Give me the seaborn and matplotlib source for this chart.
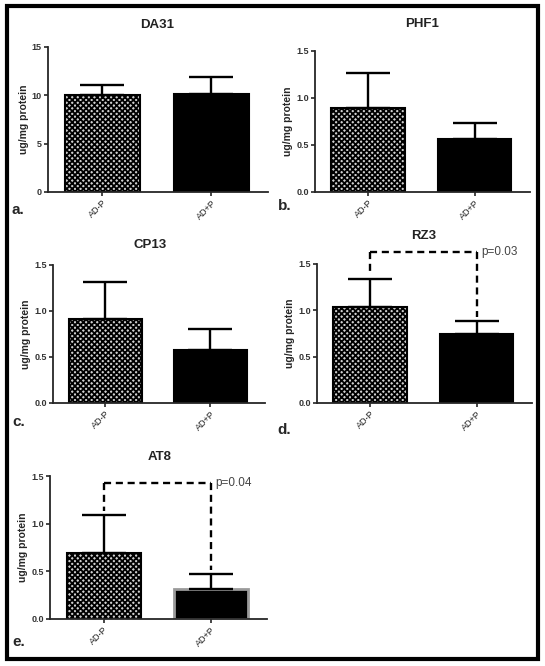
import matplotlib
matplotlib.use("Agg")
import matplotlib.pyplot as plt
import seaborn as sns
import numpy as np
from matplotlib.patches import Rectangle

sns.set_style("ticks")
plt.rcParams['font.family'] = ['Liberation Sans', 'DejaVu Sans']
plt.rcParams['hatch.linewidth'] = 1.3

groups = ["AD-P", "AD+P"]
titles = ["DA31", "PHF1", "CP13", "RZ3", "AT8"]
letters = ["a.", "b.", "c.", "d.", "e."]
means = {
    "DA31": [10.0, 10.1],
    "PHF1": [0.89, 0.56],
    "CP13": [0.91, 0.58],
    "RZ3": [1.04, 0.745],
    "AT8": [0.69, 0.31],
}
upper = {
    "DA31": [11.1, 11.9],
    "PHF1": [1.27, 0.73],
    "CP13": [1.31, 0.80],
    "RZ3": [1.34, 0.89],
    "AT8": [1.09, 0.47],
}
yticks = {
    "DA31": [0, 5, 10, 15],
    "PHF1": [0.0, 0.5, 1.0, 1.5],
    "CP13": [0.0, 0.5, 1.0, 1.5],
    "RZ3": [0.0, 0.5, 1.0, 1.5],
    "AT8": [0.0, 0.5, 1.0, 1.5],
}
ytick_labels = {
    "DA31": ["0", "5", "10", "15"],
    "PHF1": ["0.0", "0.5", "1.0", "1.5"],
    "CP13": ["0.0", "0.5", "1.0", "1.5"],
    "RZ3": ["0.0", "0.5", "1.0", "1.5"],
    "AT8": ["0.0", "0.5", "1.0", "1.5"],
}
brackets = {"RZ3": (1.63, "p=0.03"), "AT8": (1.43, "p=0.04")}

W, H = 545, 666
fig = plt.figure(figsize=(W / 100, H / 100), dpi=100)

# axes rects in pixels: left, top, right, bottom
rects = {
    "DA31": (48, 47, 268, 192),
    "PHF1": (315, 51, 530, 192),
    "CP13": (53, 265, 265, 403),
    "RZ3": (317, 264, 532, 403),
    "AT8": (50, 476, 267, 619),
}
title_pos = {
    "DA31": (157, 25),
    "PHF1": (422, 24),
    "CP13": (150, 245),
    "RZ3": (424, 236),
    "AT8": (160, 457),
}
letter_pos = {
    "DA31": (12, 210),
    "PHF1": (278, 206),
    "CP13": (12, 422),
    "RZ3": (277, 430),
    "AT8": (12, 642),
}

for t, let in zip(titles, letters):
    l, tp, r, b = rects[t]
    ax = fig.add_axes([l / W, 1 - b / H, (r - l) / W, (b - tp) / H])
    sns.barplot(x=groups, y=means[t], hue=groups,
                palette=["#c8c8c8", "black"], width=0.69,
                edgecolor="black", linewidth=1.5, legend=False, ax=ax,
                errorbar=None)
    bars = ax.patches
    bars[0].set_hatch("xxxxxx")
    bars[0].set_facecolor("#d0d0d0")
    bars[0].set_edgecolor("black")
    if t == "AT8":
        bars[1].set_edgecolor("#9a9a9a")
        bars[1].set_linewidth(2.0)
    xs = [p.get_x() + p.get_width() / 2 for p in bars[:2]]
    m = np.array(means[t])
    u = np.array(upper[t])
    ax.errorbar(xs, m, yerr=[np.zeros(2), u - m], fmt="none",
                ecolor="black", elinewidth=1.7, capsize=16, capthick=1.7,
                zorder=1)
    ax.set_xlim(-0.5, 1.52)
    top = yticks[t][-1]
    ax.set_ylim(0, top)
    ax.set_yticks(yticks[t])
    ax.set_yticklabels(ytick_labels[t], fontsize=6.5, fontweight="bold",
                       color="#333333")
    ax.set_xticks([0, 1])
    ax.set_xticklabels(groups, rotation=45, ha="right", rotation_mode="anchor",
                       fontsize=6.5, color="#222222")
    ax.tick_params(axis="both", length=3, width=1.2, pad=1.5)
    for s in ["top", "right"]:
        ax.spines[s].set_visible(False)
    for s in ["left", "bottom"]:
        ax.spines[s].set_linewidth(1.3)
    ax.set_ylabel("ug/mg protein", fontsize=7.5, fontweight="bold", labelpad=2)
    ax.set_xlabel("")
    tx, ty = title_pos[t]
    fig.text(tx / W, 1 - ty / H, t, fontsize=9.5, fontweight="bold",
             color="#222222", ha="center", va="center")
    if t in brackets:
        yb, txt = brackets[t]
        gap = 0.04
        kw = dict(color="black", lw=1.7, ls=(0, (3, 2)), clip_on=False)
        ax.plot([xs[0], xs[0]], [yb, u[0] + gap], **kw)
        ax.plot([xs[0], xs[1]], [yb, yb], **kw)
        ax.plot([xs[1], xs[1]], [yb, u[1] + gap], **kw)
        ax.text(xs[1] + 0.04, yb, txt, fontsize=8.5, color="#444444",
                va="center", ha="left", clip_on=False)
    lx, ly = letter_pos[t]
    fig.text(lx / W, 1 - ly / H, let, fontsize=11, fontweight="bold",
             va="center", ha="left")

frame = Rectangle((7 / W, 1 - 659 / H), 531 / W, 653 / H,
                  transform=fig.transFigure, fill=False, lw=3,
                  edgecolor="black")
fig.patches.append(frame)

fig.savefig("out.png", dpi=100)
